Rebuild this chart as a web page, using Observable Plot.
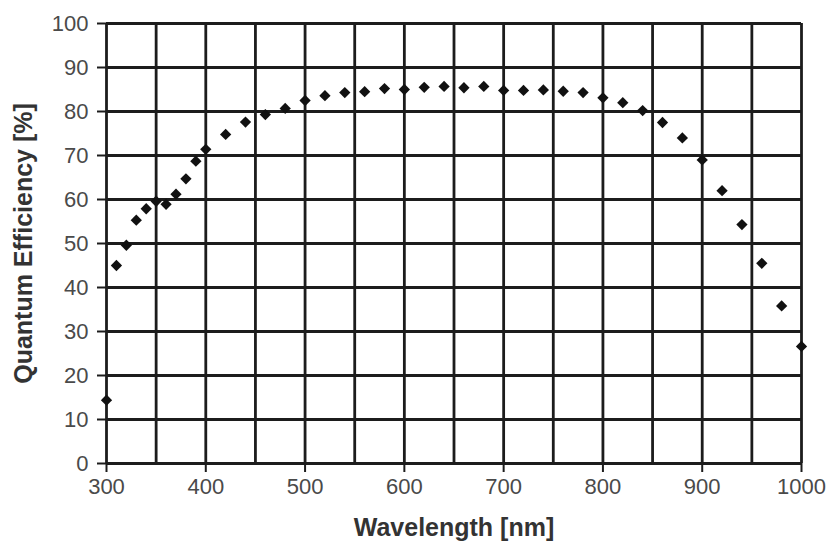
<!DOCTYPE html>
<html>
<head>
<meta charset="utf-8">
<script src="https://cdn.jsdelivr.net/npm/d3@7"></script>
<script src="https://cdn.jsdelivr.net/npm/@observablehq/plot@0.6"></script>
<style>
  html, body { margin: 0; padding: 0; background: #fff; }
  #chart { width: 828px; height: 548px; }
</style>
</head>
<body>
<div id="chart"></div>
<script>
const wavelength = [300, 310, 320, 330, 340, 350, 360, 370, 380, 390, 400, 420, 440, 460, 480, 500, 520, 540, 560, 580, 600, 620, 640, 660, 680, 700, 720, 740, 760, 780, 800, 820, 840, 860, 880, 900, 920, 940, 960, 980, 1000];
const efficiency = [14.4, 45.0, 49.6, 55.3, 57.9, 59.6, 58.9, 61.2, 64.7, 68.7, 71.4, 74.8, 77.6, 79.3, 80.7, 82.5, 83.6, 84.3, 84.5, 85.2, 85.0, 85.5, 85.7, 85.4, 85.7, 84.8, 84.8, 84.9, 84.6, 84.3, 83.1, 82.0, 80.2, 77.5, 74.0, 69.0, 62.0, 54.3, 45.5, 35.8, 26.6];
const xTickLabels = [300, 400, 500, 600, 700, 800, 900, 1000];
const yTickLabels = [0, 10, 20, 30, 40, 50, 60, 70, 80, 90, 100];
const xGrid = [300, 350, 400, 450, 500, 550, 600, 650, 700, 750, 800, 850, 900, 950, 1000];
const yGrid = [0, 10, 20, 30, 40, 50, 60, 70, 80, 90, 100];
const xTitle = "Wavelength [nm]";
const yTitle = "Quantum Efficiency [%]";

const data = wavelength.map((w, i) => ({w, qe: efficiency[i]}));

const gridColor = "#1c1c1c";
const chart = Plot.plot({
  width: 828,
  height: 548,
  marginLeft: 106,
  marginRight: 27,
  marginTop: 23,
  marginBottom: 85,
  style: {fontFamily: "'Liberation Sans', Arial, sans-serif", background: "#fff"},
  x: {domain: [300, 1000]},
  y: {domain: [0, 100]},
  marks: [
    Plot.ruleX(xGrid, {stroke: gridColor, strokeWidth: 2.8}),
    Plot.ruleY(yGrid, {stroke: gridColor, strokeWidth: 2.8}),
    Plot.axisX({ticks: xTickLabels, tickFormat: d => String(d), tickSize: 9, tickPadding: 6, fontSize: 22, color: "#4a4a4a", stroke: gridColor, strokeWidth: 2, label: null}),
    Plot.axisY({ticks: yTickLabels, tickFormat: d => String(d), tickSize: 9, tickPadding: 9, fontSize: 22, color: "#4a4a4a", stroke: gridColor, strokeWidth: 2, label: null}),
    Plot.dot(data, {x: "w", y: "qe", symbol: "square", rotate: 45, r: 4.5, fill: "#111", stroke: "none"}),
    Plot.text([xTitle], {frameAnchor: "bottom", dy: 72, fontSize: 25, fontWeight: "bold", fill: "#333"}),
    Plot.text([yTitle], {frameAnchor: "left", textAnchor: "middle", dx: -83, rotate: -90, fontSize: 25, fontWeight: "bold", fill: "#333"})
  ]
});
document.getElementById("chart").appendChild(chart);
</script>
</body>
</html>
